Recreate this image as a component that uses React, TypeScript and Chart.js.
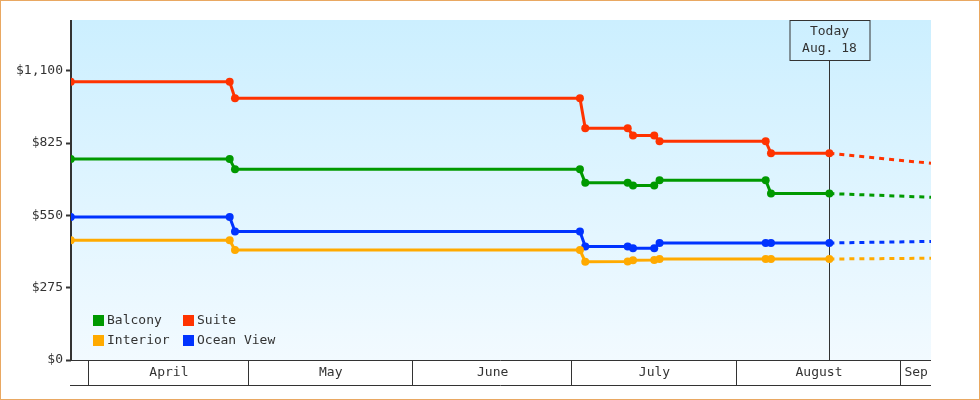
import React, { useEffect, useRef } from 'react';
import { Chart, registerables } from 'chart.js';

Chart.register(...registerables);

// ---- data (days counted from April 1 = 0) ----
const seriesLabels = ['Balcony', 'Suite', 'Interior', 'Ocean View'];
const seriesColors = ['#009900', '#ff3300', '#ffaa00', '#0033ff'];
const priceDays = [-3.5, 26.45, 27.45, 92.45, 93.45, 101.45, 102.45, 106.45, 107.45, 127.45, 128.45, 139.45];
const balcony = [764, 764, 725, 725, 674, 674, 664, 664, 684, 684, 633, 633];
const suite = [1058, 1058, 995, 995, 881, 881, 854, 854, 832, 832, 786, 786];
const interior = [455, 455, 418, 418, 374, 375, 379, 380, 384, 384, 384, 384];
const oceanView = [544, 544, 489, 489, 432, 432, 425, 425, 445, 445, 445, 445];
const forecastDays = [139.45, 158.6];
const balconyForecast = [633, 619];
const suiteForecast = [786, 748];
const interiorForecast = [384, 387];
const oceanViewForecast = [445, 451];
const yTicks = [0, 275, 550, 825, 1100];
const monthNames = ['March', 'April', 'May', 'June', 'July', 'August', 'Sep'];
const monthStarts = [-31, 0, 30, 61, 91, 122, 153, 183];
const todayDay = 139.45;
const todayLabel = ['Today', 'Aug. 18'];
const xMin = -3.45;
const xMax = 158.6;
const yMax = 1293;

const FONT = '13px "DejaVu Sans Mono", monospace';
const INK = '#333333';

export default function App() {
  const ref = useRef<HTMLCanvasElement>(null);

  useEffect(() => {
    const canvas = ref.current;
    if (!canvas) return;
    const mainSeries = [balcony, suite, interior, oceanView];
    const forecastSeries = [balconyForecast, suiteForecast, interiorForecast, oceanViewForecast];

    const datasets: any[] = [];
    mainSeries.forEach((arr, i) => {
      datasets.push({
        label: seriesLabels[i],
        data: arr.map((v, k) => ({ x: priceDays[k], y: v })),
        borderColor: seriesColors[i],
        backgroundColor: seriesColors[i],
        pointBackgroundColor: seriesColors[i],
        borderWidth: 3,
        pointRadius: 4,
        pointBorderWidth: 0,
        tension: 0,
        fill: false,
      });
    });
    forecastSeries.forEach((arr, i) => {
      datasets.push({
        label: seriesLabels[i] + ' forecast',
        data: arr.map((v, k) => ({ x: forecastDays[k], y: v })),
        borderColor: seriesColors[i],
        borderWidth: 3,
        borderDash: [5, 5],
        borderCapStyle: 'butt',
        pointRadius: 0,
        tension: 0,
        fill: false,
      });
    });

    const decor = {
      id: 'decor',
      beforeDraw(chart: any) {
        const { ctx, width, height } = chart;
        ctx.save();
        ctx.fillStyle = '#ffffff';
        ctx.fillRect(0, 0, width, height);
        ctx.strokeStyle = '#e9a862';
        ctx.lineWidth = 1;
        ctx.strokeRect(0.5, 0.5, width - 1, height - 1);
        ctx.restore();
      },
      beforeDatasetsDraw(chart: any) {
        const { ctx, chartArea: a } = chart;
        const xs = chart.scales.x;
        ctx.save();
        const g = ctx.createLinearGradient(0, a.top, 0, a.bottom);
        g.addColorStop(0, '#ccefff');
        g.addColorStop(1, '#f2faff');
        ctx.fillStyle = g;
        ctx.fillRect(a.left, a.top, a.right - a.left, a.bottom - a.top);
        // y axis line
        ctx.fillStyle = INK;
        ctx.fillRect(a.left - 1, a.top, 2, a.bottom - a.top);
        // today marker
        const tx = Math.round(xs.getPixelForValue(todayDay)) + 0.5;
        const bw = 80, bh = 40;
        ctx.strokeStyle = INK;
        ctx.lineWidth = 1;
        ctx.strokeRect(Math.round(tx - bw / 2), a.top + 0.5, bw, bh);
        ctx.beginPath();
        ctx.moveTo(tx, a.top + bh);
        ctx.lineTo(tx, a.bottom);
        ctx.stroke();
        ctx.fillStyle = INK;
        ctx.font = FONT;
        ctx.textAlign = 'center';
        ctx.textBaseline = 'middle';
        ctx.fillText(todayLabel[0], tx, a.top + 12);
        ctx.fillText(todayLabel[1], tx, a.top + 29);
        ctx.restore();
      },
      afterDraw(chart: any) {
        const { ctx, chartArea: a } = chart;
        const xs = chart.scales.x;
        ctx.save();
        ctx.strokeStyle = INK;
        ctx.lineWidth = 1;
        const rowTop = a.bottom;
        const rowBottom = a.bottom + 25;
        const left = a.left - 1;
        const right = a.right;
        ctx.beginPath();
        ctx.moveTo(left, rowTop + 0.5);
        ctx.lineTo(right, rowTop + 0.5);
        ctx.moveTo(left, rowBottom + 0.5);
        ctx.lineTo(right, rowBottom + 0.5);
        ctx.stroke();
        ctx.font = FONT;
        ctx.fillStyle = INK;
        ctx.textAlign = 'center';
        ctx.textBaseline = 'middle';
        for (let i = 0; i < monthNames.length; i++) {
          const p0 = xs.getPixelForValue(monthStarts[i]);
          const p1 = xs.getPixelForValue(monthStarts[i + 1]);
          if (p0 > left && p0 < right) {
            const sx = Math.round(p0) - 0.5;
            ctx.beginPath();
            ctx.moveTo(sx, rowTop);
            ctx.lineTo(sx, rowBottom);
            ctx.stroke();
          }
          const c0 = Math.max(p0, left);
          const c1 = Math.min(p1, right);
          const w = ctx.measureText(monthNames[i]).width;
          if (c1 - c0 >= w + 4) {
            ctx.fillText(monthNames[i], (c0 + c1) / 2, rowTop + 13);
          }
        }
        // legend (2 columns)
        const order = [0, 1, 2, 3];
        order.forEach((idx, k) => {
          const col = k % 2;
          const row = Math.floor(k / 2);
          const x = a.left + 22 + col * 90;
          const y = a.bottom - 45 + row * 20;
          ctx.fillStyle = seriesColors[idx];
          ctx.fillRect(x, y, 11, 11);
          ctx.fillStyle = INK;
          ctx.textAlign = 'left';
          ctx.fillText(seriesLabels[idx], x + 14, y + 6);
        });
        ctx.restore();
      },
    };

    const chart = new Chart(canvas, {
      type: 'line',
      data: { datasets },
      options: {
        animation: false,
        responsive: false,
        devicePixelRatio: 1,
        layout: { padding: { top: 20, right: 49, bottom: 40, left: 0 } },
        plugins: { legend: { display: false }, tooltip: { enabled: false } },
        scales: {
          x: { type: 'linear', min: xMin, max: xMax, display: false },
          y: {
            type: 'linear',
            min: 0,
            max: yMax,
            afterFit: (s: any) => { s.width = 71; },
            afterBuildTicks: (s: any) => { s.ticks = yTicks.map((v) => ({ value: v })); },
            border: { display: false },
            grid: { drawOnChartArea: false, drawTicks: true, tickLength: 5, tickColor: INK, tickWidth: 2 },
            ticks: {
              color: INK,
              padding: 3,
              font: { family: '"DejaVu Sans Mono", monospace', size: 13 },
              callback: (v: any) => '$' + Number(v).toLocaleString('en-US'),
            },
          },
        },
      } as any,
      plugins: [decor],
    });
    return () => chart.destroy();
  }, []);

  return (
    <div style={{ position: 'fixed', left: 0, top: 0, width: 980, height: 400 }}>
      <canvas ref={ref} width={980} height={400} style={{ display: 'block', width: 980, height: 400 }} />
    </div>
  );
}
